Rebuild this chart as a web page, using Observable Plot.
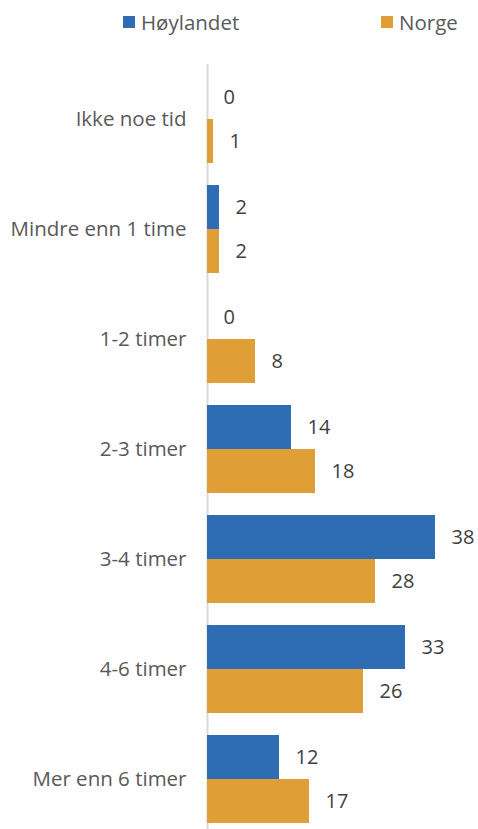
<!DOCTYPE html>
<html>
<head>
<meta charset="utf-8">
<script src="https://cdn.jsdelivr.net/npm/d3@7"></script>
<script src="https://cdn.jsdelivr.net/npm/@observablehq/plot@0.6"></script>
<style>
  html, body { margin: 0; padding: 0; background: #fff; overflow: hidden; }
  body { width: 478px; height: 829px; font-family: "Open Sans", Roboto, sans-serif; color: #595959; }
  #legend { position: relative; height: 48px; font-size: 20.5px; }
  .item { position: absolute; top: 8px; display: flex; align-items: center; }
  .sw { width: 12px; height: 12px; margin-right: 6px; }
</style>
</head>
<body>
<div id="legend"></div>
<div id="chart"></div>
<script>
const categories = ["Ikke noe tid", "Mindre enn 1 time", "1-2 timer", "2-3 timer", "3-4 timer", "4-6 timer", "Mer enn 6 timer"];
const seriesNames = ["Høylandet", "Norge"];
const hoylandet = [0, 2, 0, 14, 38, 33, 12];
const norge = [1, 2, 8, 18, 28, 26, 17];
const colors = ["#2e6db4", "#e09f36"];

const data = [];
categories.forEach((c, i) => {
  data.push({cat: c, series: seriesNames[0], value: hoylandet[i]});
  data.push({cat: c, series: seriesNames[1], value: norge[i]});
});

const legend = document.getElementById("legend");
const legendX = [123, 381];
seriesNames.forEach((s, i) => {
  const it = document.createElement("div");
  it.className = "item";
  it.style.left = legendX[i] + "px";
  it.innerHTML = `<span class="sw" style="background:${colors[i]}"></span><span>${s}</span>`;
  legend.appendChild(it);
});

const chart = Plot.plot({
  width: 478,
  height: 790,
  marginTop: 24,
  marginBottom: 13,
  marginLeft: 207,
  marginRight: 31,
  style: {fontFamily: "'Open Sans', Roboto, sans-serif", fontSize: "20.5px", color: "#595959", background: "#fff"},
  x: {domain: [0, 40], axis: null},
  y: {domain: seriesNames, padding: 0, axis: null},
  fy: {domain: categories, paddingInner: 0.2, paddingOuter: 0, label: null},
  color: {domain: seriesNames, range: colors},
  marks: [
    Plot.axisFy({anchor: "left", tickSize: 0, tickPadding: 21, label: null, fontSize: 20.5, fill: "#595959"}),
    Plot.ruleX([0], {stroke: "#d9d9d9", strokeWidth: 2, insetTop: -11.2, insetBottom: -11.2}),
    Plot.barX(data, {fy: "cat", y: "series", x: "value", fill: "series"}),
    Plot.text(data, {fy: "cat", y: "series", x: "value", text: d => String(d.value), textAnchor: "start", dx: 16, fill: "#404040", fontSize: 20})
  ]
});
document.getElementById("chart").appendChild(chart);
</script>
</body>
</html>
